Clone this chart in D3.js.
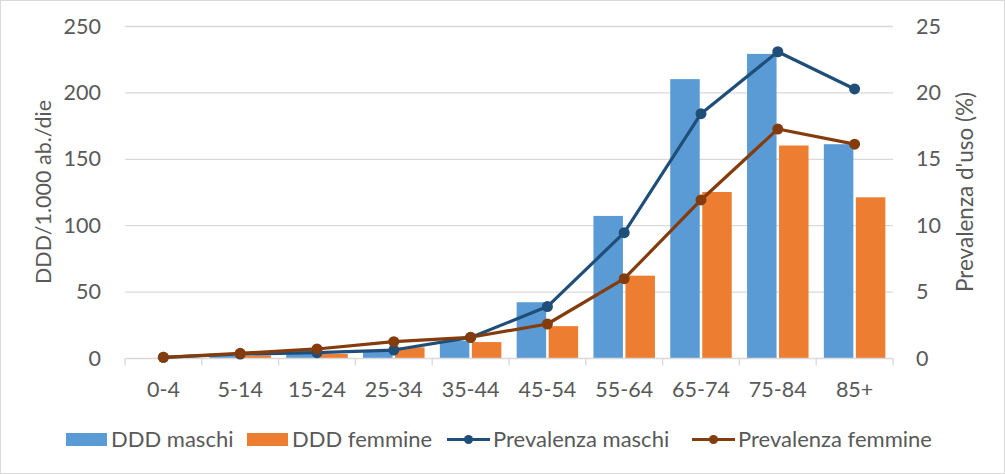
<!DOCTYPE html>
<html><head><meta charset="utf-8">
<script src="https://cdn.jsdelivr.net/npm/d3@7"></script>
<style>
body{margin:0;background:#fff;}
svg{display:block;font-family:Lato,"Open Sans",sans-serif;}
</style></head>
<body><svg id="c" width="1005" height="474"></svg>
<script>
const categories = ["0-4","5-14","15-24","25-34","35-44","45-54","55-64","65-74","75-84","85+"];
const dddMaschi = [0, 1.5, 5.5, 6, 13, 42, 107, 210, 229, 161];
const dddFemmine = [0, 2, 3, 8, 12, 24, 62, 125, 160, 121];
const prevMaschi = [0.05, 0.3, 0.4, 0.6, 1.55, 3.87, 9.44, 18.4, 23.06, 20.26];
const prevFemmine = [0.05, 0.35, 0.68, 1.23, 1.56, 2.56, 5.97, 11.9, 17.24, 16.1];
const leftTicks = [0,50,100,150,200,250];
const rightTicks = [0,5,10,15,20,25];

const svg = d3.select("#c");
const W=1005,H=474;
const L=125,R=893,T=26,B=358;
const txt="#595959", grid="#d9d9d9";
const fs=21.5;
svg.append("rect").attr("x",0.5).attr("y",0.5).attr("width",W-1).attr("height",H-1).attr("fill","#fff").attr("stroke","#d9d9d9");

const x = d3.scaleBand().domain(categories).range([L,R]).paddingInner(0).paddingOuter(0);
const yL = d3.scaleLinear().domain([0,250]).range([B,T]);
const yR = d3.scaleLinear().domain([0,25]).range([B,T]);

// gridlines
svg.append("g").selectAll("line").data(leftTicks.slice(1)).join("line")
 .attr("x1",L).attr("x2",R).attr("y1",d=>yL(d)+0.5).attr("y2",d=>yL(d)+0.5)
 .attr("stroke",grid).attr("stroke-width",1.3);

// bars
const bw = 29.5, gap=2.5;
const bars = svg.append("g");
categories.forEach((c,i)=>{
  const cx = x(c)+x.bandwidth()/2;
  bars.append("rect").attr("x",cx-gap/2-bw).attr("width",bw).attr("y",yL(dddMaschi[i])).attr("height",B-yL(dddMaschi[i])).attr("fill","#5B9BD5");
  bars.append("rect").attr("x",cx+gap/2).attr("width",bw).attr("y",yL(dddFemmine[i])).attr("height",B-yL(dddFemmine[i])).attr("fill","#ED7D31");
});

// x axis
const xa = svg.append("g").attr("transform",`translate(0,${B+0.5})`);
xa.append("line").attr("x1",L).attr("x2",R).attr("stroke",grid).attr("stroke-width",1.3);
const tickPos = categories.map(c=>x(c)).concat([R]);
xa.selectAll("line.t").data(tickPos).join("line").attr("class","t")
 .attr("x1",d=>d).attr("x2",d=>d).attr("y1",0).attr("y2",7).attr("stroke",grid).attr("stroke-width",1.3);
xa.selectAll("text").data(categories).join("text")
 .attr("x",d=>x(d)+x.bandwidth()/2).attr("y",38.5).attr("text-anchor","middle")
 .attr("fill",txt).attr("font-size",fs).text(d=>d);

// left axis labels
svg.append("g").selectAll("text").data(leftTicks).join("text")
 .attr("x",101).attr("y",d=>yL(d)+7.5).attr("text-anchor","end").attr("fill",txt).attr("font-size",fs).text(d=>d);
// right axis labels
svg.append("g").selectAll("text").data(rightTicks).join("text")
 .attr("x",916).attr("y",d=>yR(d)+7.5).attr("text-anchor","start").attr("fill",txt).attr("font-size",fs).text(d=>d);

svg.append("text").attr("transform","translate(51,192) rotate(-90)").attr("text-anchor","middle")
 .attr("fill",txt).attr("font-size",fs).text("DDD/1.000 ab./die");
svg.append("text").attr("transform","translate(973,192) rotate(-90)").attr("text-anchor","middle")
 .attr("fill",txt).attr("font-size",22.5).text("Prevalenza d'uso (%)");

// lines
function drawLine(vals,color){
  const g=svg.append("g");
  const line=d3.line().x((d,i)=>x(categories[i])+x.bandwidth()/2).y(d=>yR(d));
  g.append("path").attr("d",line(vals)).attr("fill","none").attr("stroke",color).attr("stroke-width",3.2).attr("stroke-linejoin","round");
  g.selectAll("circle").data(vals).join("circle").attr("cx",(d,i)=>x(categories[i])+x.bandwidth()/2).attr("cy",d=>yR(d)).attr("r",5.5).attr("fill",color);
}
drawLine(prevMaschi,"#1F4E79");
drawLine(prevFemmine,"#843C0C");

// legend
const leg = svg.append("g");
const ly=439.5;
const items=[
 {t:"DDD maschi",type:"rect",c:"#5B9BD5",x:66},
 {t:"DDD femmine",type:"rect",c:"#ED7D31",x:247},
 {t:"Prevalenza maschi",type:"line",c:"#1F4E79",x:447},
 {t:"Prevalenza femmine",type:"line",c:"#843C0C",x:692}
];
items.forEach(it=>{
  if(it.type==="rect"){
    leg.append("rect").attr("x",it.x).attr("y",ly-6.5).attr("width",41).attr("height",13).attr("fill",it.c);
  } else {
    leg.append("line").attr("x1",it.x).attr("x2",it.x+43).attr("y1",ly).attr("y2",ly).attr("stroke",it.c).attr("stroke-width",3.2);
    leg.append("circle").attr("cx",it.x+21.5).attr("cy",ly).attr("r",4.5).attr("fill",it.c);
  }
  leg.append("text").attr("x",it.x+(it.type==="rect"?45:46)).attr("y",ly+7.5).attr("fill",txt).attr("font-size",22).text(it.t);
});
</script></body></html>
